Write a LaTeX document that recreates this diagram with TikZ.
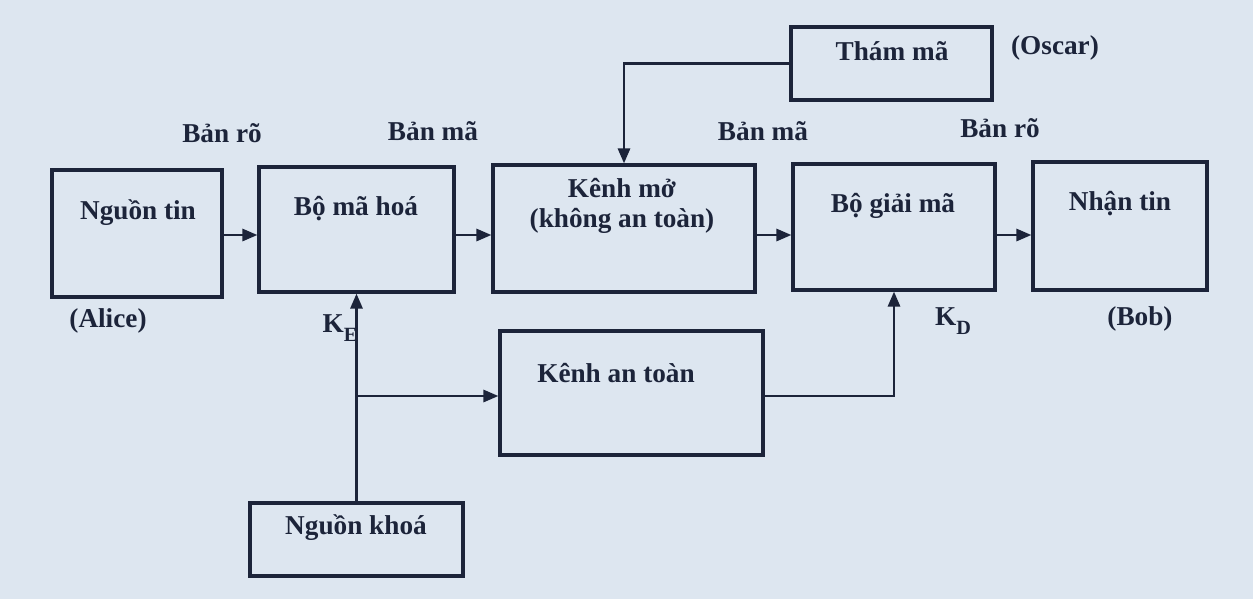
\documentclass[tikz,border=0pt]{standalone}
\usepackage{fontspec}
\setmainfont{Liberation Serif}
\usetikzlibrary{positioning, arrows.meta, calc}
\definecolor{ink}{RGB}{28,36,58}
\definecolor{screen}{RGB}{221,230,240}

\begin{document}
\begin{tikzpicture}[
    x=0.02cm, y=-0.02cm,
    ink,
    block/.style={draw=ink, line width=1.8pt, rectangle, inner sep=0pt},
    caption/.style={text=ink, font=\bfseries\fontsize{15.5}{17}\selectfont, align=center, inner sep=1pt},
    flow/.style={draw=ink, line width=1.6pt, -{Triangle[length=3mm, width=2.4mm]}}
]

    % Background
    \fill[screen] (0,0) rectangle (1253,599);
    \useasboundingbox (0,0) rectangle (1253,599);

    % Blocks
    \node[block, minimum width=3.4cm, minimum height=2.54cm] (SRC) at (137,233.5) {};
    \node[block, minimum width=3.9cm, minimum height=2.5cm] (ENC) at (356.5,229.5) {};
    \node[block, minimum width=5.24cm, minimum height=2.54cm] (PUB) at (624,228.5) {};
    \node[block, minimum width=4.04cm, minimum height=2.52cm] (DEC) at (894,227) {};
    \node[block, minimum width=3.48cm, minimum height=2.56cm] (DST) at (1120,226) {};
    \node[block, minimum width=4.02cm, minimum height=1.46cm] (EVE) at (891.5,63.5) {};
    \node[block, minimum width=5.26cm, minimum height=2.48cm] (SEC) at (631.5,393) {};
    \node[block, minimum width=4.26cm, minimum height=1.46cm] (KEY) at (356.5,539.5) {};

    % Block texts
    \node[caption] (SRCt) at (138,213) {Nguồn tin};
    \node[caption] (ENCt) at (356,209) {Bộ mã hoá};
    \node[caption] (PUBt) at (622,206) {Kênh mở\\(không an toàn)};
    \node[caption] (DECt) at (893,206) {Bộ giải mã};
    \node[caption] (DSTt) at (1120,204) {Nhận tin};
    \node[caption] (EVEt) at (892,51) {Thám mã};
    \node[caption] (SECt) at (616,373) {Kênh an toàn};
    \node[caption] (KEYt) at (356,528) {Nguồn khoá};

    % Outside labels
    \node[caption] (P1) at (222,133) {Bản rõ};
    \node[caption] (C1) at (433,131) {Bản mã};
    \node[caption] (C2) at (763,131) {Bản mã};
    \node[caption] (P2) at (1000,128) {Bản rõ};
    \node[caption] (ALICE) at (108,321) {(Alice)};
    \node[caption] (BOB) at (1140,319) {(Bob)};
    \node[caption] (OSCAR) at (1055,48) {(Oscar)};
    \node[caption] (KE) at (340,328) {K\lower0.7ex\hbox{\fontsize{11.5}{12}\selectfont E}};
    \node[caption] (KD) at (953,321) {K\lower0.7ex\hbox{\fontsize{11.5}{12}\selectfont D}};

    % Message flow
    \coordinate (ROW) at (0,235);
    \draw[flow] (SRC.east |- ROW) -- (ENC.west |- ROW);
    \draw[flow] (ENC.east |- ROW) -- (PUB.west |- ROW);
    \draw[flow] (PUB.east |- ROW) -- (DEC.west |- ROW);
    \draw[flow] (DEC.east |- ROW) -- (DST.west |- ROW);

    % Eavesdropper
    \draw[flow] (EVE.west) -| (PUB.north);

    % Key flow
    \coordinate (KB) at (356.5,396);
    \draw[flow] (KEY.north) -- (ENC.south);
    \draw[flow] (KB) -- (SEC.west |- KB);
    \draw[flow] (SEC.east |- KB) -| (DEC.south);

\end{tikzpicture}
\end{document}
